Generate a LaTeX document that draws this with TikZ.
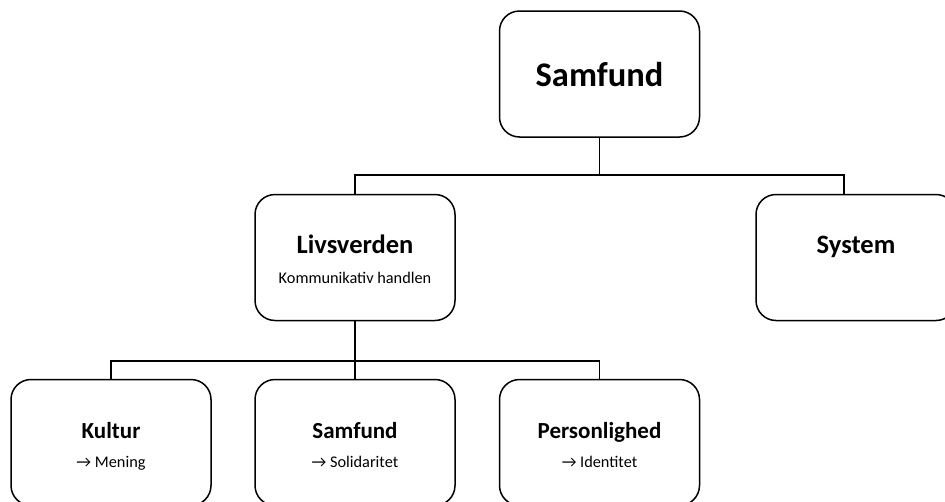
\documentclass[tikz,border=0pt]{standalone}
\usepackage{fontspec}
\setmainfont{Carlito}
\begin{document}
\begin{tikzpicture}[x=1pt,y=-1pt,line width=1.5pt]
			\useasboundingbox (0,0) rectangle (945,501);
			\begin{scope}[every node/.style={rectangle,draw,rounded corners=20pt,
				minimum width=200pt, minimum height=126pt, inner sep=0pt}]
			\node (top) at (599.5,74) {};
			\node (lw) at (355,257.5) {};
			\node (sys) at (856,257.5) {};
			\node (kult) at (111,442.5) {};
			\node (samf) at (355,442.5) {};
			\node (pers) at (599.5,442.5) {};
			\end{scope}
			
			\begin{scope}[every node/.style={anchor=base,inner sep=0pt,
				font=\bfseries\fontsize{26.5}{30}\selectfont}]
			\node (toptxt) at (599.5,86) {\fontsize{34.5}{40}\selectfont Samfund};
			\node (lwtxt) at (355,253) {Livsverden};
			\node (systxt) at (856,253) {System};
			\end{scope}
			\begin{scope}[every node/.style={anchor=base,inner sep=0pt,
				font=\bfseries\fontsize{23}{28}\selectfont}]
			\node (kulttxt) at (111,438) {Kultur};
			\node (samftxt) at (355,438) {Samfund};
			\node (perstxt) at (599.5,438) {Personlighed};
			\end{scope}
			\begin{scope}[every node/.style={anchor=base,inner sep=0pt,
				font=\fontsize{16.3}{19}\selectfont}]
			\node (lwsub) at (355,283) {Kommunikativ handlen};
			\node (kultsub) at (111,467) {→ Mening};
			\node (samfsub) at (355,467) {→ Solidaritet};
			\node (perssub) at (599.5,467) {→ Identitet};
			\end{scope}
			
			\coordinate (bus1) at (599.5,175);
			\coordinate (bus2) at (355,361);
			\coordinate (sysin) at ([xshift=-12pt]sys.north);
			\draw (top.south) -- (bus1);
			\draw (lw.north) |- (bus1) -| (sysin);
			\draw (lw.south) -- (samf.north);
			\draw (kult.north) |- (bus2) -| (pers.north);
			\end{tikzpicture}
\end{document}
